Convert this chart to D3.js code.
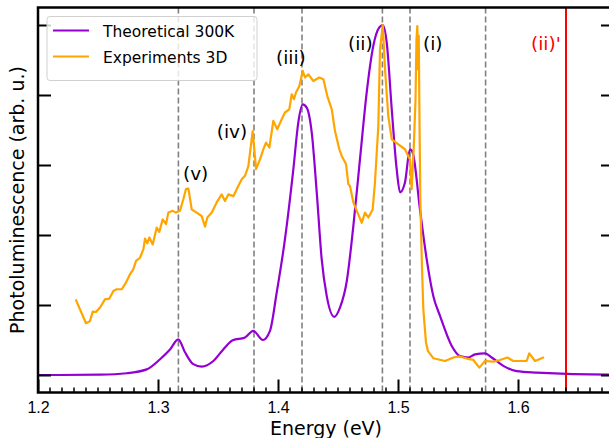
<!DOCTYPE html>
<html>
<head>
<meta charset="utf-8">
<script src="https://cdn.jsdelivr.net/npm/d3@7"></script>
<style>
  body { margin: 0; background: #fff; }
  svg { font-family: "DejaVu Sans", sans-serif; }
  .tick text { font-size: 16px; fill: #000; }
</style>
</head>
<body>
<svg id="chart" width="609" height="438"></svg>
<script>
// theoretical spectrum, 300K (energy in eV, normalised intensity)
const theoE = [1.19, 1.2, 1.2183, 1.2517, 1.2739, 1.2906, 1.3017, 1.31, 1.3169, 1.3225, 1.3294, 1.3364,
  1.3461, 1.3544, 1.3623, 1.3725, 1.3794, 1.3873, 1.3933, 1.3989, 1.4058, 1.4128, 1.4169, 1.4206,
  1.4239, 1.4281, 1.4323, 1.4364, 1.4406, 1.4469, 1.4517, 1.4573, 1.4628, 1.4683, 1.4739, 1.4794,
  1.4844, 1.4873, 1.4906, 1.4948, 1.4989, 1.5017, 1.5058, 1.51, 1.5123, 1.5183, 1.5239, 1.5294,
  1.535, 1.5448, 1.5517, 1.5586, 1.5642, 1.5725, 1.5781, 1.5878, 1.5989, 1.6156, 1.68, 1.69];
const theoI = [0, 0, 0, 0.001, 0.005, 0.016, 0.045, 0.073, 0.102, 0.065, 0.031, 0.024,
  0.040, 0.073, 0.099, 0.107, 0.126, 0.100, 0.126, 0.235, 0.388, 0.588, 0.721, 0.773,
  0.764, 0.693, 0.521, 0.331, 0.226, 0.166, 0.193, 0.268, 0.426, 0.616, 0.807, 0.940,
  0.993, 1.0, 0.950, 0.759, 0.588, 0.522, 0.550, 0.645, 0.635, 0.473, 0.331, 0.226,
  0.169, 0.083, 0.054, 0.050, 0.059, 0.062, 0.050, 0.026, 0.011, 0.007, 0.001, 0.001];

// experimental spectrum, 3D sample
const expE = [1.2314, 1.24, 1.2433, 1.2456, 1.2483, 1.2517, 1.2558, 1.2594, 1.2628, 1.2656, 1.2698,
  1.2733, 1.2767, 1.2794, 1.2817, 1.285, 1.2878, 1.2892, 1.2911, 1.2928, 1.2956, 1.2989, 1.3011,
  1.3039, 1.3067, 1.3086, 1.3123, 1.315, 1.3183, 1.3211, 1.3233, 1.3253, 1.3281, 1.3323, 1.3364,
  1.3392, 1.3411, 1.3448, 1.3489, 1.3531, 1.3558, 1.3586, 1.3628, 1.3669, 1.3698, 1.3725, 1.3753,
  1.3789, 1.3817, 1.385, 1.3878, 1.39, 1.3928, 1.3961, 1.3994, 1.4031, 1.4058, 1.4094, 1.4114,
  1.4133, 1.415, 1.4178, 1.4206, 1.4225, 1.4253, 1.4294, 1.4344, 1.4378, 1.4411, 1.4448, 1.4475,
  1.4511, 1.4531, 1.4567, 1.4586, 1.46, 1.4628, 1.4669, 1.4698, 1.4725, 1.4753, 1.4789, 1.4808,
  1.4836, 1.485, 1.4873, 1.4892, 1.4919, 1.4948, 1.5003, 1.5058, 1.51, 1.5114, 1.5133, 1.5146,
  1.5154, 1.5161, 1.5168, 1.5173, 1.5179, 1.5186, 1.5198, 1.5211, 1.5233, 1.525, 1.5294, 1.5392,
  1.5461, 1.5517, 1.5573, 1.5628, 1.5678, 1.5725, 1.5794, 1.585, 1.5911, 1.5961, 1.6072, 1.6094,
  1.6142, 1.6217];
const expI = [0.216, 0.148, 0.154, 0.181, 0.180, 0.193, 0.216, 0.218, 0.240, 0.245, 0.245,
  0.264, 0.288, 0.302, 0.326, 0.335, 0.359, 0.390, 0.376, 0.393, 0.373, 0.421, 0.409,
  0.445, 0.431, 0.464, 0.469, 0.464, 0.469, 0.502, 0.531, 0.533, 0.473, 0.464, 0.454,
  0.424, 0.450, 0.464, 0.493, 0.516, 0.497, 0.516, 0.511, 0.540, 0.559, 0.569, 0.597,
  0.697, 0.588, 0.616, 0.645, 0.664, 0.650, 0.726, 0.702, 0.731, 0.750, 0.759, 0.802,
  0.788, 0.807, 0.826, 0.869, 0.850, 0.859, 0.840, 0.850, 0.845, 0.797, 0.759, 0.697,
  0.645, 0.626, 0.602, 0.545, 0.540, 0.493, 0.459, 0.435, 0.464, 0.450, 0.473, 0.550,
  0.711, 0.931, 1.0, 0.873, 0.740, 0.673, 0.659, 0.645, 0.616, 0.531, 0.664, 0.788,
  0.959, 0.997, 0.873, 0.969, 0.731, 0.502, 0.331, 0.188, 0.093, 0.068, 0.048, 0.040,
  0.050, 0.053, 0.047, 0.043, 0.021, 0.040, 0.038, 0.043, 0.050, 0.040, 0.040, 0.062,
  0.040, 0.051];

// marked transitions
const peakE = [1.317, 1.38, 1.42, 1.487, 1.51, 1.573];
const redE = 1.64;
const labels = ["(v)", "(iv)", "(iii)", "(ii)", "(i)", "(ii)'"];
const labelE = [1.3208, 1.3489, 1.3983, 1.4583, 1.5208, 1.6108];
const labelI = [0.557, 0.677, 0.889, 0.929, 0.929, 0.929];
const labelColor = ["#000", "#000", "#000", "#000", "#000", "red"];

const xTicks = [1.2, 1.3, 1.4, 1.5, 1.6, 1.7];
const yTicks = [0, 0.2, 0.4, 0.6, 0.8, 1.0];

const margin = {top: 7.5, left: 38};
const plotW = 576, plotH = 385;

const x = d3.scaleLinear().domain([1.2, 1.68]).range([0, plotW]);
const y = d3.scaleLinear().domain([-0.05, 1.05]).range([plotH, 0]);

const svg = d3.select("#chart");
const g = svg.append("g")
  .attr("transform", `translate(${margin.left},${margin.top})`);

g.append("clipPath").attr("id", "clip")
  .append("rect").attr("width", plotW).attr("height", plotH);

const plot = g.append("g").attr("clip-path", "url(#clip)");

// dashed guides
plot.selectAll("line.guide")
  .data(peakE)
  .enter().append("line")
    .attr("class", "guide")
    .attr("x1", d => x(d)).attr("x2", d => x(d))
    .attr("y1", 0).attr("y2", plotH)
    .attr("stroke", "#808080")
    .attr("stroke-width", 1.6)
    .attr("stroke-dasharray", "6,3");

const line = d3.line().x(d => x(d[0])).y(d => y(d[1]));

plot.append("path")
  .datum(d3.zip(theoE, theoI))
  .attr("fill", "none")
  .attr("stroke", "#9400d3")
  .attr("stroke-width", 2.2)
  .attr("stroke-linejoin", "round")
  .attr("d", line.curve(d3.curveMonotoneX));

plot.append("path")
  .datum(d3.zip(expE, expI))
  .attr("fill", "none")
  .attr("stroke", "#ffa500")
  .attr("stroke-width", 2.2)
  .attr("stroke-linejoin", "round")
  .attr("d", d3.line().x(d => x(d[0])).y(d => y(d[1])));

plot.append("line")
  .attr("x1", x(redE)).attr("x2", x(redE))
  .attr("y1", 0).attr("y2", plotH)
  .attr("stroke", "red")
  .attr("stroke-width", 2);

// peak labels
g.selectAll("text.lab")
  .data(labels)
  .enter().append("text")
    .attr("class", "lab")
    .attr("x", (d, i) => x(labelE[i]))
    .attr("y", (d, i) => y(labelI[i]))
    .attr("fill", (d, i) => labelColor[i])
    .style("font-size", "18.5px")
    .text(d => d);

// axes, ticks pointing inwards
const xAxis = g.append("g")
  .attr("transform", `translate(0,${plotH})`)
  .call(d3.axisBottom(x).tickValues(xTicks.filter(v => v <= 1.68))
    .tickFormat(d3.format(".1f")).tickSize(-13).tickPadding(9));
xAxis.selectAll(".tick line").attr("stroke-width", 2);

const minor = d3.range(1.2, 1.68, 0.01).filter(v => Math.abs(v * 10 - Math.round(v * 10)) > 0.01);
g.append("g")
  .attr("transform", `translate(0,${plotH})`)
  .selectAll("line")
  .data(minor)
  .enter().append("line")
    .attr("x1", d => x(d)).attr("x2", d => x(d))
    .attr("y1", 0).attr("y2", -5)
    .attr("stroke", "#000").attr("stroke-width", 1.5);

const yAxis = g.append("g")
  .call(d3.axisLeft(y).tickValues(yTicks).tickFormat("").tickSize(-13));
yAxis.selectAll(".tick line").attr("stroke-width", 2);

const yAxisR = g.append("g")
  .attr("transform", `translate(${plotW},0)`)
  .call(d3.axisRight(y).tickValues(yTicks).tickFormat("").tickSize(-13));
yAxisR.selectAll(".tick line").attr("stroke-width", 2);

g.selectAll(".domain").remove();

// frame
g.append("rect")
  .attr("width", plotW).attr("height", plotH)
  .attr("fill", "none")
  .attr("stroke", "#000")
  .attr("stroke-width", 2.5);

// legend
const legend = g.append("g").attr("transform", "translate(9,9)");
legend.append("rect")
  .attr("width", 210).attr("height", 64)
  .attr("rx", 3)
  .attr("fill", "white").attr("fill-opacity", 0.8)
  .attr("stroke", "#d0d0d0").attr("stroke-width", 1);

const legendItems = [["Theoretical 300K", "#9400d3"], ["Experiments 3D", "#ffa500"]];
legendItems.forEach((d, i) => {
  const row = legend.append("g").attr("transform", `translate(0,${14 + i * 26})`);
  row.append("line")
    .attr("x1", 6).attr("x2", 42)
    .attr("stroke", d[1]).attr("stroke-width", 2.2);
  row.append("text")
    .attr("x", 56).attr("y", 6)
    .style("font-size", "15.5px")
    .text(d[0]);
});

// axis labels
svg.append("text")
  .attr("x", margin.left + x(1.44)).attr("y", 434.5)
  .attr("text-anchor", "middle")
  .style("font-size", "19px")
  .text("Energy (eV)");

svg.append("text")
  .attr("transform", `translate(24,${margin.top + plotH / 2}) rotate(-90)`)
  .attr("text-anchor", "middle")
  .style("font-size", "19px")
  .text("Photoluminescence (arb. u.)");
</script>
</body>
</html>
